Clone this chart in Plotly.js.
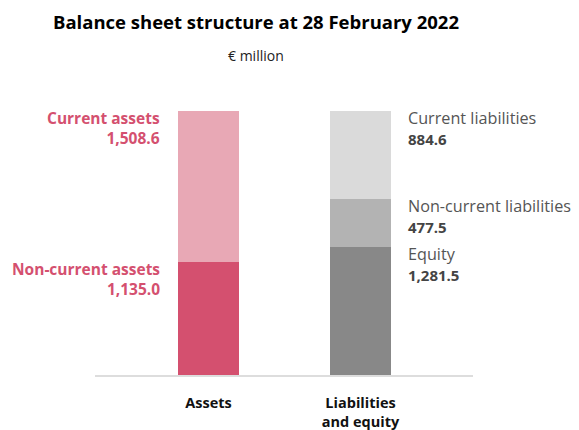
<!DOCTYPE html>
<html>
<head>
<meta charset="utf-8">
<script src="https://cdn.plot.ly/plotly-3.0.1.min.js"></script>
<style>
  body { margin: 0; background: #fff; }
  #plot { width: 579px; height: 430px; }
</style>
</head>
<body>
<div id="plot"></div>
<script>
// categories on the x axis
var categories = ['Assets', 'Liabilities'];
var categoryLabels = ['Assets', 'Liabilities<br>and equity'];

// segments, bottom to top within each bar
var segNames = ['Non-current assets', 'Current assets', 'Equity', 'Non-current liabilities', 'Current liabilities'];
var segCategory = ['Assets', 'Assets', 'Liabilities', 'Liabilities', 'Liabilities'];
var segValues = [1135.0, 1508.6, 1281.5, 477.5, 884.6];
var segColors = ['#d4506f', '#e8a8b5', '#888888', '#b3b3b3', '#dadada'];

var fontFam = '"Open Sans", "Noto Sans", sans-serif';

function fmt(v) {
    return v.toLocaleString('en-US', {minimumFractionDigits: 1, maximumFractionDigits: 1});
}

var data = [];
var annotations = [];
var running = {};
for(let i = 0; i < segValues.length; i++) {
    let cat = segCategory[i];
    data.push({
        type: 'bar',
        x: [cat],
        y: [segValues[i]],
        name: segNames[i],
        marker: {color: segColors[i], line: {width: 0}},
        width: 0.4,
        hoverinfo: 'skip'
    });
    running[cat] = (running[cat] || 0) + segValues[i];
    let top = running[cat];
    let left = cat === 'Assets';
    // name + value, aligned to the top of the segment
    let text;
    if(left) {
        text = '<b>' + segNames[i] + '<br>' + fmt(segValues[i]) + '</b>';
    } else {
        text = '<span style="color:#555">' + segNames[i] + '</span><br>' +
               '<b><span style="font-size:15px">' + fmt(segValues[i]) + '</span></b>';
    }
    annotations.push({
        x: cat, y: top, xref: 'x', yref: 'y',
        xanchor: left ? 'right' : 'left', yanchor: 'top',
        align: left ? 'right' : 'left',
        xshift: left ? -47 : 45,
        yshift: left ? 6 : 6,
        showarrow: false,
        text: text,
        font: {family: fontFam, size: left ? 15.5 : 16.2, color: left ? '#d4506f' : '#444'}
    });
}

// unit line just under the title
annotations.push({
    xref: 'paper', yref: 'paper', x: (256 - 95) / 378, y: (375 - 55) / 270,
    xanchor: 'center', yanchor: 'middle',
    showarrow: false, text: '€ million',
    font: {family: fontFam, size: 14, color: '#222'}
});

var layout = {
    width: 579,
    height: 430,
    margin: {l: 95, r: 106, t: 105, b: 55},
    paper_bgcolor: '#fff',
    plot_bgcolor: '#fff',
    barmode: 'stack',
    showlegend: false,
    title: {
        text: '<b>Balance sheet structure at 28 February 2022</b>',
        font: {family: fontFam, size: 18.5, color: '#000'},
        xref: 'container', x: 256 / 579, xanchor: 'center',
        yref: 'container', y: 1 - 23 / 430, yanchor: 'middle'
    },
    xaxis: {
        type: 'category',
        range: [-0.747, 1.74],
        tickvals: categories,
        ticktext: categoryLabels,
        showline: true,
        linecolor: '#dddddd',
        linewidth: 2,
        ticks: '',
        ticklabelstandoff: 14,
        tickfont: {family: fontFam, size: 14.5, color: '#111', weight: 'bold'},
        showgrid: false,
        zeroline: false,
        fixedrange: true
    },
    yaxis: {
        range: [0, 2700],
        visible: false,
        showgrid: false,
        zeroline: false,
        fixedrange: true
    },
    annotations: annotations
};

Plotly.newPlot('plot', data, layout, {displayModeBar: false, staticPlot: true});
</script>
</body>
</html>
